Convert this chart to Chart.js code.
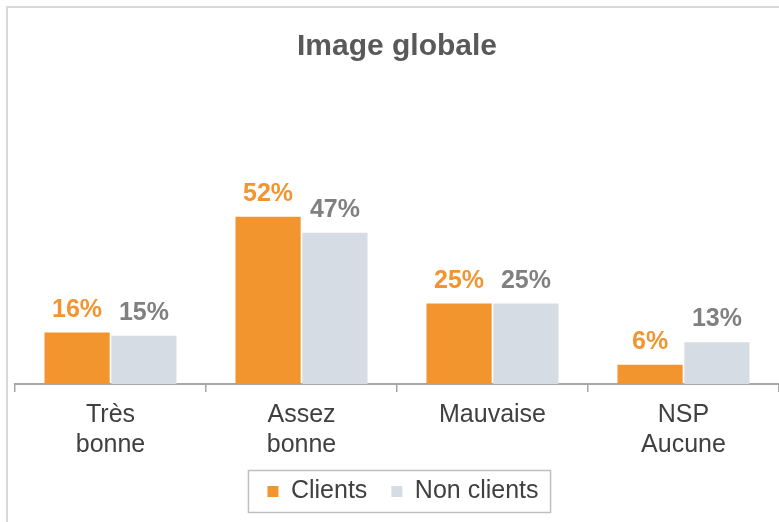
<!DOCTYPE html>
<html>
<head>
<meta charset="utf-8">
<script src="https://cdn.jsdelivr.net/npm/chart.js@4"></script>
<style>
  html, body { margin: 0; padding: 0; background: #ffffff; }
  #cadre { position: absolute; left: 6px; top: 6px; width: 900px; height: 700px; border: 2px solid #d9d9d9; }
  #zone { position: absolute; left: 0; top: 0; width: 779px; height: 522px; }
</style>
</head>
<body>
<div id="cadre"></div>
<div id="zone"><canvas id="graphique-image"></canvas></div>
<script>
var categories = [["Très", "bonne"], ["Assez", "bonne"], "Mauvaise", ["NSP", "Aucune"]];
var clients = [16, 52, 25, 6];
var nonClients = [15, 47, 25, 13];

var police = "'Liberation Sans', Arial, sans-serif";

// étiquettes de valeur au-dessus des barres
var etiquettes = {
    id: "etiquettes",
    afterDatasetsDraw: function (chart) {
        var ctx = chart.ctx;
        ctx.save();
        ctx.font = "bold 25px " + police;
        ctx.textAlign = "center";
        ctx.textBaseline = "alphabetic";
        chart.data.datasets.forEach(function (ds, i) {
            var meta = chart.getDatasetMeta(i);
            ctx.fillStyle = ds.couleurTexte;
            meta.data.forEach(function (barre, j) {
                ctx.fillText(ds.data[j] + "%", barre.x, barre.y - 16);
            });
        });
        ctx.restore();
    }
};

// légende un peu décalée à droite + cadre autour
var cadreLegende = {
    id: "cadreLegende",
    afterLayout: function (chart) {
        chart.legend.left += 6;
        chart.legend.right += 6;
    },
    afterDraw: function (chart) {
        var boites = chart.legend.legendHitBoxes;
        if (!boites || !boites.length) return;
        var gauche = Math.min.apply(null, boites.map(function (b) { return b.left; }));
        var droite = Math.max.apply(null, boites.map(function (b) { return b.left + b.width; }));
        var milieu = boites[0].top + boites[0].height / 2;
        var ctx = chart.ctx;
        ctx.save();
        ctx.strokeStyle = "#bfbfbf";
        ctx.lineWidth = 1.5;
        ctx.strokeRect(gauche - 19, milieu - 21, droite - gauche + 31, 42);
        ctx.restore();
    }
};

var referenceImage = document.querySelector("#graphique-image").getContext("2d");

var graphiqueImage = new Chart(referenceImage, {
    type: 'bar',
    data: {
        labels: categories,
        datasets: [{
                label: "Clients",
                backgroundColor: "#f2952f",
                couleurTexte: "#f2952f",
                data: clients
            },
            {
                label: "Non clients",
                backgroundColor: "#d6dce4",
                couleurTexte: "#808080",
                data: nonClients
            }
        ]
    },
    options: {
        responsive: true,
        maintainAspectRatio: false,
        animation: false,
        layout: {
            padding: { left: 15, right: 0, top: 0, bottom: 8 }
        },
        datasets: {
            bar: {
                categoryPercentage: 0.7,
                barPercentage: 0.975
            }
        },
        scales: {
            x: {
                grid: {
                    offset: true,
                    drawOnChartArea: false,
                    tickLength: 8,
                    color: "#a6a6a6",
                    lineWidth: 1.5
                },
                border: { color: "#a6a6a6", width: 2 },
                ticks: {
                    color: "#404040",
                    padding: 8,
                    maxRotation: 0,
                    autoSkip: false,
                    font: { family: police, size: 25 }
                },
                afterFit: function (scale) { scale.height = 71; }
            },
            y: {
                display: false,
                min: 0,
                max: 60
            }
        },
        plugins: {
            title: {
                display: true,
                text: "Image globale",
                color: "#595959",
                font: { family: police, size: 30, weight: "bold" },
                padding: { top: 29, bottom: 126 }
            },
            legend: {
                position: "bottom",
                labels: {
                    color: "#404040",
                    boxWidth: 11,
                    boxHeight: 11,
                    padding: 24,
                    font: { family: police, size: 25 }
                }
            },
            tooltip: { enabled: false }
        }
    },
    plugins: [etiquettes, cadreLegende]
});
</script>
</body>
</html>
